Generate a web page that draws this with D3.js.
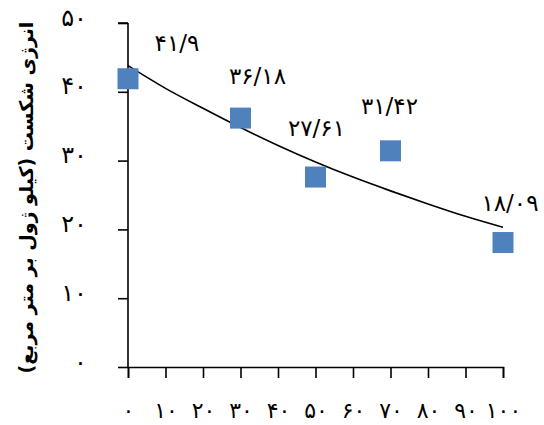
<!DOCTYPE html>
<html>
<head>
<meta charset="utf-8">
<script src="https://cdn.jsdelivr.net/npm/d3@7.9.0/dist/d3.min.js"></script>
<style>
  html, body { margin: 0; padding: 0; background: #fff; }
  svg { display: block; font-family: "DejaVu Sans", sans-serif; }
</style>
</head>
<body>
<svg></svg>
<script>
const width = 544;
const height = 425;

// Data
const xValues = [0, 30, 50, 70, 100];
const yValues = [41.9, 36.18, 27.61, 31.42, 18.09];
const pointLabels = ["۴۱/۹", "۳۶/۱۸", "۲۷/۶۱", "۳۱/۴۲", "۱۸/۰۹"];
// trend line at every 10 units
const trendX = [0, 10, 20, 30, 40, 50, 60, 70, 80, 90, 100];
const trendY = [43.8, 40.5, 37.6, 34.8, 32.2, 29.8, 27.6, 25.6, 23.7, 21.9, 20.3];
const xTicks = [0, 10, 20, 30, 40, 50, 60, 70, 80, 90, 100];
const yTicks = [0, 10, 20, 30, 40, 50];
const yTitle = "انرژی شکست (کیلو ژول بر متر مربع)";

// label placement relative to each marker (dx, dy in px)
const labelOffsets = [[49, -36], [17, -42], [1, -49], [-1, -45], [7, -40]];

const toFa = n => String(n).replace(/\d/g, d => "۰۱۲۳۴۵۶۷۸۹"[d]);

const svg = d3.select("svg")
  .attr("width", width)
  .attr("height", height);

const x = d3.scaleLinear().domain([0, 100]).range([128, 503]);
const y = d3.scaleLinear().domain([0, 50]).range([367, 23]);

// y axis
const yAxis = svg.append("g")
  .attr("transform", `translate(${x(0)},0)`)
  .call(d3.axisLeft(y).tickValues(yTicks).tickSize(10).tickPadding(31).tickFormat(toFa));

// x axis
const xAxis = svg.append("g")
  .attr("transform", `translate(0,${y(0)})`)
  .call(d3.axisBottom(x).tickValues(xTicks).tickSize(11).tickPadding(0).tickFormat(toFa));

[xAxis, yAxis].forEach(g => {
  g.select(".domain").attr("stroke", "#000").attr("stroke-width", 1.6);
  g.selectAll(".tick line").attr("stroke", "#000").attr("stroke-width", 1.6);
  g.selectAll(".tick text")
    .attr("fill", "#000")
    .style("font-size", "24px")
    .style("font-family", "DejaVu Sans, sans-serif");
});
yAxis.select(".domain").attr("d", `M0,${y(50)}H-10M0,${y(50)}V${y(0)}`);
yAxis.selectAll(".tick text").attr("dy", 2);
xAxis.selectAll(".tick text").attr("y", 0).attr("dy", 51).style("font-size", "22px");

// trend line
const trend = trendX.map((v, i) => ({ x: v, y: trendY[i] }));
svg.append("path")
  .datum(trend)
  .attr("fill", "none")
  .attr("stroke", "#000")
  .attr("stroke-width", 1.6)
  .attr("d", d3.line().x(d => x(d.x)).y(d => y(d.y)).curve(d3.curveMonotoneX));

// markers
const points = xValues.map((v, i) => ({ x: v, y: yValues[i], label: pointLabels[i], off: labelOffsets[i] }));
const size = 21;
svg.append("g")
  .selectAll("rect")
  .data(points)
  .join("rect")
  .attr("x", d => x(d.x) - size / 2)
  .attr("y", d => y(d.y) - size / 2)
  .attr("width", size)
  .attr("height", size)
  .attr("fill", "#4F81BD");

// data labels
svg.append("g")
  .selectAll("text")
  .data(points)
  .join("text")
  .attr("x", d => x(d.x) + d.off[0])
  .attr("y", d => y(d.y) + d.off[1])
  .attr("text-anchor", "middle")
  .attr("dominant-baseline", "central")
  .attr("direction", "ltr")
  .style("font-size", "23px")
  .text(d => d.label);

// y title
svg.append("text")
  .attr("transform", `translate(26,${(12 + 383) / 2}) rotate(-90)`)
  .attr("text-anchor", "middle")
  .attr("dominant-baseline", "central")
  .style("font-size", "19px")
  .style("font-weight", "bold")
  .text(yTitle);
</script>
</body>
</html>
